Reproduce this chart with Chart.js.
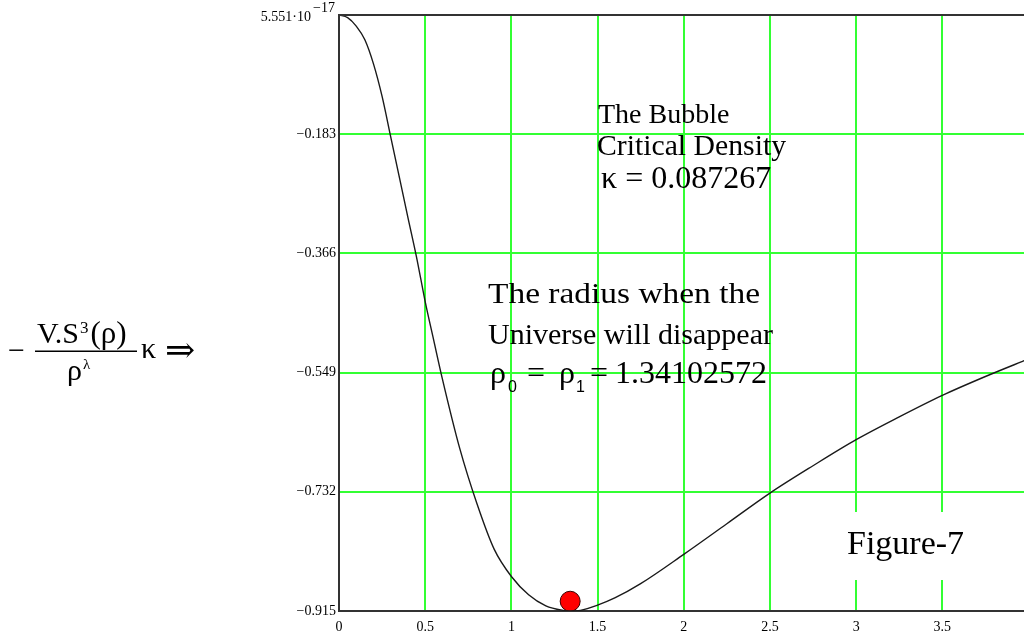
<!DOCTYPE html>
<html>
<head>
<meta charset="utf-8">
<title>Figure-7</title>
<script src="https://cdn.jsdelivr.net/npm/chart.js@4.4.1/dist/chart.umd.min.js"></script>
<style>
  html, body { margin: 0; padding: 0; background: #fff; overflow: hidden; }
  #wrap { position: absolute; left: 0; top: 0; width: 1040px; height: 637px; }
</style>
</head>
<body>
<div id="wrap"><canvas id="chart" width="1040" height="637"></canvas></div>
<script>
// ==============================================
// 곡선 데이터 (ρ, 에너지 값)
// ==============================================
const rho = [0, 0.05, 0.1, 0.15, 0.2, 0.25, 0.3, 0.35, 0.4, 0.45, 0.5, 0.55, 0.6, 0.7, 0.8, 0.9,
             1.0, 1.1, 1.2, 1.3, 1.34, 1.4, 1.5, 1.6, 1.75, 2.0, 2.25, 2.5, 2.75, 3.0, 3.25, 3.5, 3.75, 4.0];
const energy = [0, -0.004, -0.017, -0.038, -0.075, -0.125, -0.187, -0.249, -0.311, -0.372, -0.44, -0.50, -0.559,
                -0.665, -0.75, -0.82, -0.862, -0.89, -0.907, -0.914, -0.915, -0.914, -0.906, -0.895, -0.873,
                -0.828, -0.781, -0.734, -0.692, -0.652, -0.617, -0.584, -0.555, -0.528];

// 소멸 반지름 표시점
const rhoZero = [1.34102572];
const rhoZeroY = [-0.9];

// 축 눈금
const xTicks = [0, 0.5, 1, 1.5, 2, 2.5, 3, 3.5, 4];
const xTickLabels = ["0", "0.5", "1", "1.5", "2", "2.5", "3", "3.5", "4"];
const yTicks = [-0.915, -0.732, -0.549, -0.366, -0.183, 0];
const yTickLabels = ["\u22120.915", "\u22120.732", "\u22120.549", "\u22120.366", "\u22120.183", ""];

const SERIF = "'Liberation Serif', 'Times New Roman', serif";
const SANS = "'Liberation Sans', Arial, sans-serif";

// ==============================================
// 그리드 위 "Figure-7" 흰 박스
// ==============================================
const figureBox = {
    id: "figureBox",
    beforeDatasetsDraw(chart) {
        const ctx = chart.ctx;
        ctx.save();
        ctx.fillStyle = "#fff";
        ctx.fillRect(836, 512, 140, 68);
        ctx.restore();
    }
};

// ==============================================
// 텍스트 헬퍼
// ==============================================
function txt(ctx, s, x, y, size, family) {
    ctx.font = size + "px " + (family || SERIF);
    ctx.fillText(s, x, y);
    return x + ctx.measureText(s).width;
}

// 지정 폭에 맞춰 가로로 늘려 쓰기
function fitTxt(ctx, s, x, y, size, width) {
    ctx.font = size + "px " + SERIF;
    const w = ctx.measureText(s).width;
    ctx.save();
    ctx.translate(x, y);
    ctx.scale(width / w, 1);
    ctx.fillText(s, 0, 0);
    ctx.restore();
}

// ==============================================
// 텍스트, 상단 테두리, 수식
// ==============================================
const labels = {
    id: "labels",
    afterDraw(chart) {
        const ctx = chart.ctx;
        const a = chart.chartArea;
        ctx.save();

        // 상단 테두리
        ctx.strokeStyle = "#333";
        ctx.lineWidth = 2;
        ctx.beginPath();
        ctx.moveTo(a.left - 1, a.top);
        ctx.lineTo(a.right, a.top);
        ctx.stroke();

        ctx.fillStyle = "#000";
        ctx.textBaseline = "alphabetic";

        // y축 최상단 값 5.551·10^-17
        ctx.textAlign = "right";
        txt(ctx, "5.551\u00b710", 311, 21, 14);
        ctx.textAlign = "left";
        txt(ctx, "\u221217", 313, 12, 14);

        // 임계 밀도
        txt(ctx, "The Bubble", 598, 123, 28);
        fitTxt(ctx, "Critical Density", 597, 155, 29, 189);
        txt(ctx, "\u03ba = 0.087267", 601, 188, 32);

        // 소멸 반지름
        fitTxt(ctx, "The radius when the", 488, 303, 30, 272);
        fitTxt(ctx, "Universe will disappear", 488, 344, 30, 285);
        txt(ctx, "\u03c1", 490, 383, 32);
        txt(ctx, "0", 508, 392, 16, SANS);
        txt(ctx, "=", 527, 383, 32);
        txt(ctx, "\u03c1", 559, 383, 32);
        txt(ctx, "1", 576, 392, 16, SANS);
        txt(ctx, "=", 590, 383, 32);
        txt(ctx, "1.34102572", 615, 383, 32);

        txt(ctx, "Figure-7", 847, 554, 34);

        // 왼쪽 수식  - V.S^3(ρ)/ρ^λ κ ⇒
        txt(ctx, "\u2212", 8, 360, 30);
        let x = txt(ctx, "V.S", 37, 343, 30);
        x = txt(ctx, "3", x + 1, 333, 17);
        txt(ctx, "(\u03c1)", x + 2, 343, 31);
        ctx.fillRect(35, 350.5, 102, 1.5);
        x = txt(ctx, "\u03c1", 67, 380, 30);
        txt(ctx, "\u03bb", x + 1, 369, 15);
        txt(ctx, "\u03ba", 141, 358, 30);
        txt(ctx, "\u21d2", 165, 362, 36, "'DejaVu Serif', serif");

        ctx.restore();
    }
};

// ==============================================
// 차트 생성
// ==============================================
const ctx = document.getElementById("chart").getContext("2d");
new Chart(ctx, {
    type: "line",
    data: {
        datasets: [
            {
                data: rho.map((r, i) => ({ x: r, y: energy[i] })),
                borderColor: "#1a1a1a",
                borderWidth: 1.4,
                pointRadius: 0,
                cubicInterpolationMode: "monotone",
                fill: false
            },
            {
                data: rhoZero.map((r, i) => ({ x: r, y: rhoZeroY[i] })),
                showLine: false,
                pointRadius: 10,
                pointBackgroundColor: "#ff0000",
                pointBorderColor: "#3a0000",
                pointBorderWidth: 1
            }
        ]
    },
    options: {
        responsive: false,
        animation: false,
        layout: { padding: { left: 239, top: 15, right: 11, bottom: 0 } },
        plugins: { legend: { display: false }, tooltip: { enabled: false } },
        scales: {
            x: {
                type: "linear",
                min: 0,
                max: 4,
                afterBuildTicks: s => { s.ticks = xTicks.map(v => ({ value: v })); },
                afterFit: s => { s.height = 26; },
                grid: { color: "#33ff33", lineWidth: 2, drawTicks: false },
                border: { color: "#333", width: 2 },
                ticks: {
                    autoSkip: false,
                    maxRotation: 0,
                    padding: 8,
                    color: "#000",
                    font: { family: SERIF, size: 14 },
                    callback: v => xTickLabels[xTicks.indexOf(v)]
                }
            },
            y: {
                type: "linear",
                min: -0.915,
                max: 0,
                afterBuildTicks: s => { s.ticks = yTicks.map(v => ({ value: v })); },
                afterFit: s => { s.width = 100; },
                grid: { color: "#33ff33", lineWidth: 2, drawTicks: false },
                border: { color: "#333", width: 2 },
                ticks: {
                    autoSkip: false,
                    padding: 3,
                    color: "#000",
                    font: { family: SERIF, size: 14 },
                    callback: v => yTickLabels[yTicks.indexOf(v)]
                }
            }
        }
    },
    plugins: [figureBox, labels]
});
</script>
</body>
</html>
